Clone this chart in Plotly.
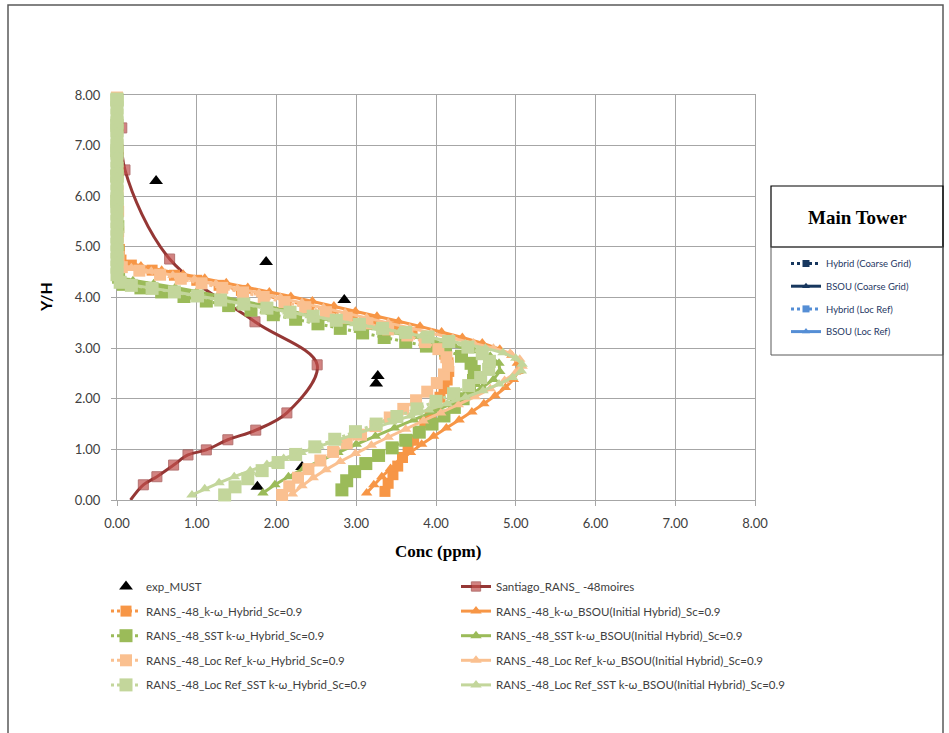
import plotly.graph_objects as go

# ---------------- data ----------------
exp_x = [0.49, 1.87, 2.85, 3.27, 3.25, 2.32, 1.76]
exp_y = [6.30, 4.70, 3.95, 2.45, 2.30, 0.65, 0.26]

sant_x = [0.17, 0.33, 0.50, 0.71, 0.89, 1.12, 1.39, 1.74, 2.13, 2.51, 1.73, 0.66, 0.10, 0.06]
sant_y = [0.00, 0.30, 0.46, 0.69, 0.89, 0.99, 1.19, 1.38, 1.72, 2.67, 3.52, 4.76, 6.52, 7.35]

kw_hyb_x = [3.36, 3.40, 3.46, 3.52, 3.58, 3.65, 3.72, 3.79, 3.86, 3.93, 3.99, 4.05, 4.10, 4.14, 4.16, 4.15, 4.11, 4.02, 3.88, 3.70, 3.48, 3.22, 2.95, 2.68, 2.40, 2.12, 1.84, 1.56, 1.28, 1.00, 0.72, 0.44, 0.18, 0.05,
            0.03, 0.02, 0.02, 0.01, 0.01, 0.01, 0.00, 0.00, 0.00]
kw_hyb_y = [0.17, 0.33, 0.50, 0.67, 0.84, 1.01, 1.18, 1.35, 1.52, 1.69, 1.86, 2.03, 2.20, 2.37, 2.54, 2.71, 2.88, 3.03, 3.17, 3.30, 3.42, 3.53, 3.64, 3.74, 3.84, 3.94, 4.04, 4.14, 4.24, 4.34, 4.44, 4.54, 4.64, 4.74,
            4.95, 5.30, 5.70, 6.10, 6.50, 6.90, 7.30, 7.70, 7.95]

kw_bsou_x = [3.13, 3.22, 3.32, 3.43, 3.55, 3.68, 3.82, 3.97, 4.13, 4.29, 4.45, 4.60, 4.74, 4.87, 4.97, 5.03, 5.02, 4.95, 4.80, 4.58, 4.33, 4.07, 3.80, 3.53, 3.26, 2.99, 2.72, 2.45, 2.18, 1.91, 1.64, 1.37, 1.10, 0.83, 0.56, 0.30, 0.08,
             0.02, 0.01, 0.01, 0.00, 0.00, 0.00, 0.00]
kw_bsou_y = [0.14, 0.30, 0.46, 0.62, 0.78, 0.94, 1.10, 1.26, 1.42, 1.58, 1.74, 1.90, 2.06, 2.22, 2.38, 2.54, 2.70, 2.86, 2.98, 3.10, 3.21, 3.32, 3.43, 3.53, 3.63, 3.73, 3.83, 3.93, 4.02, 4.11, 4.20, 4.29, 4.38, 4.46, 4.54, 4.62, 4.70,
             4.90, 5.40, 5.90, 6.40, 6.90, 7.40, 7.90]

sst_hyb_x = [2.82, 2.88, 2.98, 3.12, 3.28, 3.45, 3.62, 3.79, 3.95, 4.10, 4.23, 4.34, 4.42, 4.47, 4.48, 4.44, 4.32, 4.12, 3.88, 3.62, 3.35, 3.08, 2.80, 2.52, 2.24, 1.96, 1.68, 1.40, 1.12, 0.84, 0.56, 0.30, 0.08,
             0.02, 0.01, 0.01, 0.00, 0.00, 0.00, 0.00, 0.00]
sst_hyb_y = [0.20, 0.38, 0.56, 0.72, 0.88, 1.03, 1.18, 1.34, 1.50, 1.66, 1.83, 2.00, 2.18, 2.36, 2.54, 2.70, 2.84, 2.96, 3.04, 3.12, 3.21, 3.30, 3.39, 3.48, 3.57, 3.66, 3.75, 3.84, 3.93, 4.02, 4.11, 4.19, 4.26,
             4.40, 4.90, 5.40, 5.90, 6.40, 6.90, 7.40, 7.90]

sst_bsou_x = [1.83, 1.98, 2.15, 2.34, 2.55, 2.77, 3.00, 3.24, 3.48, 3.72, 3.96, 4.19, 4.40, 4.58, 4.72, 4.80, 4.79, 4.68, 4.48, 4.23, 3.97, 3.70, 3.43, 3.16, 2.89, 2.62, 2.35, 2.08, 1.81, 1.54, 1.27, 1.00, 0.73, 0.46, 0.20, 0.05,
              0.02, 0.01, 0.00, 0.00, 0.00, 0.00, 0.00, 0.00]
sst_bsou_y = [0.14, 0.30, 0.46, 0.62, 0.78, 0.94, 1.10, 1.26, 1.42, 1.58, 1.74, 1.90, 2.06, 2.22, 2.38, 2.54, 2.70, 2.84, 2.95, 3.05, 3.14, 3.23, 3.32, 3.41, 3.50, 3.59, 3.68, 3.77, 3.86, 3.95, 4.04, 4.12, 4.20, 4.27, 4.33, 4.38,
              4.60, 5.10, 5.60, 6.10, 6.60, 7.10, 7.60, 7.95]

lr_kw_hyb_x = [2.07, 2.16, 2.27, 2.40, 2.55, 2.71, 2.88, 3.06, 3.24, 3.42, 3.59, 3.75, 3.89, 4.01, 4.10, 4.15, 4.13, 4.03, 3.86, 3.64, 3.40, 3.14, 2.88, 2.62, 2.36, 2.10, 1.84, 1.58, 1.32, 1.06, 0.80, 0.54, 0.28, 0.06,
               0.02, 0.01, 0.01, 0.00, 0.00, 0.00, 0.00, 0.00]
lr_kw_hyb_y = [0.10, 0.27, 0.44, 0.61, 0.78, 0.95, 1.12, 1.29, 1.46, 1.63, 1.80, 1.97, 2.14, 2.31, 2.48, 2.65, 2.82, 2.98, 3.12, 3.25, 3.37, 3.49, 3.60, 3.71, 3.81, 3.91, 4.01, 4.10, 4.19, 4.28, 4.37, 4.45, 4.53, 4.60,
               4.80, 5.20, 5.70, 6.20, 6.70, 7.20, 7.70, 7.95]

lr_kw_bsou_x = [2.20, 2.32, 2.46, 2.62, 2.80, 2.99, 3.19, 3.40, 3.62, 3.84, 4.06, 4.28, 4.49, 4.68, 4.86, 5.00, 5.08, 5.05, 4.93, 4.72, 4.47, 4.21, 3.94, 3.67, 3.40, 3.13, 2.86, 2.59, 2.32, 2.05, 1.78, 1.51, 1.24, 0.97, 0.70, 0.43, 0.18, 0.04,
                0.02, 0.01, 0.00, 0.00, 0.00, 0.00, 0.00]
lr_kw_bsou_y = [0.12, 0.28, 0.44, 0.60, 0.76, 0.92, 1.08, 1.24, 1.40, 1.56, 1.72, 1.88, 2.04, 2.20, 2.36, 2.52, 2.64, 2.78, 2.90, 3.00, 3.10, 3.20, 3.30, 3.40, 3.50, 3.60, 3.70, 3.80, 3.90, 4.00, 4.09, 4.18, 4.27, 4.36, 4.44, 4.52, 4.59, 4.64,
                4.90, 5.40, 5.90, 6.40, 6.90, 7.40, 7.90]

lr_sst_hyb_x = [1.35, 1.48, 1.64, 1.82, 2.02, 2.24, 2.48, 2.73, 2.99, 3.25, 3.51, 3.76, 4.00, 4.22, 4.41, 4.56, 4.66, 4.67, 4.58, 4.40, 4.16, 3.90, 3.62, 3.33, 3.04, 2.75, 2.46, 2.17, 1.88, 1.59, 1.30, 1.01, 0.72, 0.44, 0.18, 0.04,
                0.00, 0.00, 0.00, 0.00, 0.00, 0.00, 0.00, 0.00, 0.00, 0.00, 0.00, 0.00, 0.00, 0.00, 0.00, 0.00, 0.00, 0.00, 0.00, 0.00, 0.00, 0.00, 0.00, 0.00]
lr_sst_hyb_y = [0.10, 0.26, 0.42, 0.58, 0.74, 0.90, 1.05, 1.20, 1.35, 1.50, 1.65, 1.80, 1.95, 2.10, 2.26, 2.42, 2.58, 2.74, 2.89, 3.02, 3.13, 3.22, 3.31, 3.39, 3.47, 3.55, 3.63, 3.71, 3.79, 3.87, 3.95, 4.03, 4.11, 4.18, 4.24, 4.30,
                4.45, 4.60, 4.75, 4.90, 5.05, 5.20, 5.35, 5.50, 5.65, 5.80, 5.95, 6.10, 6.25, 6.40, 6.55, 6.70, 6.85, 7.00, 7.15, 7.30, 7.45, 7.60, 7.75, 7.92]

lr_sst_bsou_x = [0.94, 1.10, 1.28, 1.47, 1.67, 1.88, 2.09, 2.31, 2.53, 2.76, 2.99, 3.22, 3.45, 3.68, 3.91, 4.14, 4.37, 4.59, 4.79, 4.96, 5.07, 5.08, 5.00, 4.84, 4.62, 4.37, 4.10, 3.82, 3.54, 3.26, 2.98, 2.70, 2.42, 2.14, 1.86, 1.58, 1.30, 1.02, 0.74, 0.46, 0.20, 0.04,
                 0.00, 0.00, 0.00, 0.00, 0.00, 0.00, 0.00, 0.00, 0.00, 0.00, 0.00, 0.00, 0.00, 0.00, 0.00, 0.00, 0.00, 0.00, 0.00, 0.00, 0.00, 0.00, 0.00, 0.00]
lr_sst_bsou_y = [0.10, 0.22, 0.34, 0.46, 0.58, 0.70, 0.82, 0.94, 1.06, 1.18, 1.30, 1.42, 1.54, 1.66, 1.78, 1.90, 2.03, 2.16, 2.29, 2.42, 2.55, 2.68, 2.80, 2.91, 3.00, 3.08, 3.16, 3.24, 3.32, 3.40, 3.48, 3.56, 3.64, 3.72, 3.80, 3.88, 3.96, 4.04, 4.11, 4.18, 4.24, 4.28,
                 4.42, 4.57, 4.72, 4.87, 5.02, 5.17, 5.32, 5.47, 5.62, 5.77, 5.92, 6.07, 6.22, 6.37, 6.52, 6.67, 6.82, 6.97, 7.12, 7.27, 7.42, 7.57, 7.72, 7.90]

tick_vals = [0, 1, 2, 3, 4, 5, 6, 7, 8]
tick_text = ["0.00", "1.00", "2.00", "3.00", "4.00", "5.00", "6.00", "7.00", "8.00"]

mt_names = ["Hybrid (Coarse Grid)", "BSOU (Coarse Grid)", "Hybrid (Loc Ref)", "BSOU (Loc Ref)"]

# ---------------- layout geometry (pixels) ----------------
W, H = 949, 733
PL, PR, PT, PB = 117, 755, 95, 500
pw, ph = PR - PL, PB - PT


def px(xp):
    return (xp - PL) / pw


def py(yp):
    return (PB - yp) / ph


ORANGE = "#f79646"
GREEN = "#9bbb59"
LORANGE = "#fac090"
LGREEN = "#c3d69b"

fig = go.Figure()

fig.add_trace(go.Scatter(x=exp_x, y=exp_y, mode="markers", name="exp_MUST",
                         marker=dict(symbol="triangle-up", size=12, color="black"),
                         legend="legend", legendgroup="g0", cliponaxis=False))
sant_sizes = [0] + [10] * (len(sant_x) - 1)
fig.add_trace(go.Scatter(x=sant_x, y=sant_y, mode="lines+markers", name="Santiago_RANS_ -48moires",
                         line=dict(color="#953735", width=3, shape="spline"),
                         marker=dict(symbol="square", size=sant_sizes, color="#c0504d"),
                         legend="legend3", legendgroup="g1"))


def rans(xs, ys, name, color, hybrid, leg, grp, msize=None):
    if hybrid:
        line = dict(color=color, width=3, dash="dot")
        marker = dict(symbol="square", size=msize or 11, color=color)
    else:
        line = dict(color=color, width=3)
        marker = dict(symbol="triangle-up", size=msize or 10, color=color)
    fig.add_trace(go.Scatter(x=xs, y=ys, mode="lines+markers", name=name, line=line,
                             marker=marker, legend=leg, legendgroup=grp, cliponaxis=False))


rans(kw_hyb_x, kw_hyb_y, "RANS_-48_k-ω_Hybrid_Sc=0.9", ORANGE, True, "legend", "g2")
rans(kw_bsou_x, kw_bsou_y, "RANS_-48_k-ω_BSOU(Initial Hybrid)_Sc=0.9", ORANGE, False, "legend3", "g3")
rans(sst_hyb_x, sst_hyb_y, "RANS_-48_SST k-ω_Hybrid_Sc=0.9", GREEN, True, "legend", "g4", msize=13)
rans(sst_bsou_x, sst_bsou_y, "RANS_-48_SST k-ω_BSOU(Initial Hybrid)_Sc=0.9", GREEN, False, "legend3", "g5")
rans(lr_kw_hyb_x, lr_kw_hyb_y, "RANS_-48_Loc Ref_k-ω_Hybrid_Sc=0.9", LORANGE, True, "legend", "g6", msize=12)
rans(lr_kw_bsou_x, lr_kw_bsou_y, "RANS_-48_Loc Ref_k-ω_BSOU(Initial Hybrid)_Sc=0.9", LORANGE, False, "legend3", "g7")
rans(lr_sst_hyb_x, lr_sst_hyb_y, "RANS_-48_Loc Ref_SST k-ω_Hybrid_Sc=0.9", LGREEN, True, "legend", "g8", msize=13)
rans(lr_sst_bsou_x, lr_sst_bsou_y, "RANS_-48_Loc Ref_SST k-ω_BSOU(Initial Hybrid)_Sc=0.9", LGREEN, False, "legend3", "g9")

# Main Tower key (legend only)
mt_colors = ["#17375e", "#17375e", "#558ed5", "#558ed5"]
for i, (nm, col) in enumerate(zip(mt_names, mt_colors)):
    hyb = i % 2 == 0
    fig.add_trace(go.Scatter(
        x=[None], y=[None], mode="lines+markers", name=nm,
        line=dict(color=col, width=3, dash="dot" if hyb else "solid"),
        marker=dict(symbol="square" if hyb else "triangle-up", size=7, color=col),
        legend="legend2", legendgroup="m%d" % i))

axis_common = dict(range=[0, 8], tickmode="array", tickvals=tick_vals, ticktext=tick_text,
                   showgrid=True, gridcolor="#a6a6a6", gridwidth=1, zeroline=False,
                   showline=True, linecolor="#a6a6a6", linewidth=1, mirror=True,
                   ticks="outside", ticklen=5, tickcolor="#a6a6a6", layer="below traces",
                   tickfont=dict(family="Lato", size=13, color="#404040"), fixedrange=True)

fig.update_layout(
    width=W, height=H,
    margin=dict(l=PL, r=W - PR, t=PT, b=H - PB, autoexpand=False),
    paper_bgcolor="white", plot_bgcolor="white",
    xaxis=dict(**axis_common, ticklabelstandoff=6),
    yaxis=dict(**axis_common, ticklabelstandoff=8),
    legend=dict(x=px(106), y=py(572), xanchor="left", yanchor="top", orientation="v",
                bgcolor="rgba(0,0,0,0)", borderwidth=0, tracegroupgap=5.6,
                font=dict(family="Lato", size=11.5, color="#404040")),
    legend3=dict(x=px(456), y=py(572), xanchor="left", yanchor="top", orientation="v",
                 bgcolor="rgba(0,0,0,0)", borderwidth=0, tracegroupgap=5.6,
                 font=dict(family="Lato", size=11.5, color="#404040")),
    legend2=dict(x=px(786), y=py(249), xanchor="left", yanchor="top", orientation="v",
                 bgcolor="rgba(0,0,0,0)", borderwidth=0, tracegroupgap=3.7,
                 font=dict(family="Lato", size=9.5, color="#1f3864")),
    showlegend=True,
)

shapes = [
    dict(type="rect", xref="paper", yref="paper", x0=px(8), x1=px(943), y0=py(745), y1=py(5),
         line=dict(color="#595959", width=1.5), layer="below"),
    dict(type="rect", xref="paper", yref="paper", x0=px(771), x1=px(943), y0=py(247), y1=py(186),
         line=dict(color="#000000", width=1.2)),
    dict(type="rect", xref="paper", yref="paper", x0=px(771), x1=px(943), y0=py(355), y1=py(247),
         line=dict(color="#595959", width=1)),
]
fig.update_layout(shapes=shapes)

fig.add_annotation(x=px(857), y=py(217), xref="paper", yref="paper", text="<b>Main Tower</b>",
                   showarrow=False, xanchor="center", yanchor="middle",
                   font=dict(family="Liberation Serif", size=19, color="#000000"))
fig.add_annotation(x=px(438), y=py(551), xref="paper", yref="paper", text="<b>Conc (ppm)</b>",
                   showarrow=False, xanchor="center", yanchor="middle",
                   font=dict(family="Liberation Serif", size=17, color="#000000"))
fig.add_annotation(x=px(45), y=py(297), xref="paper", yref="paper", text="<b>Y/H</b>",
                   showarrow=False, xanchor="center", yanchor="middle", textangle=-90,
                   font=dict(family="Lato", size=16, color="#000000"))

fig.write_html("out.html")
